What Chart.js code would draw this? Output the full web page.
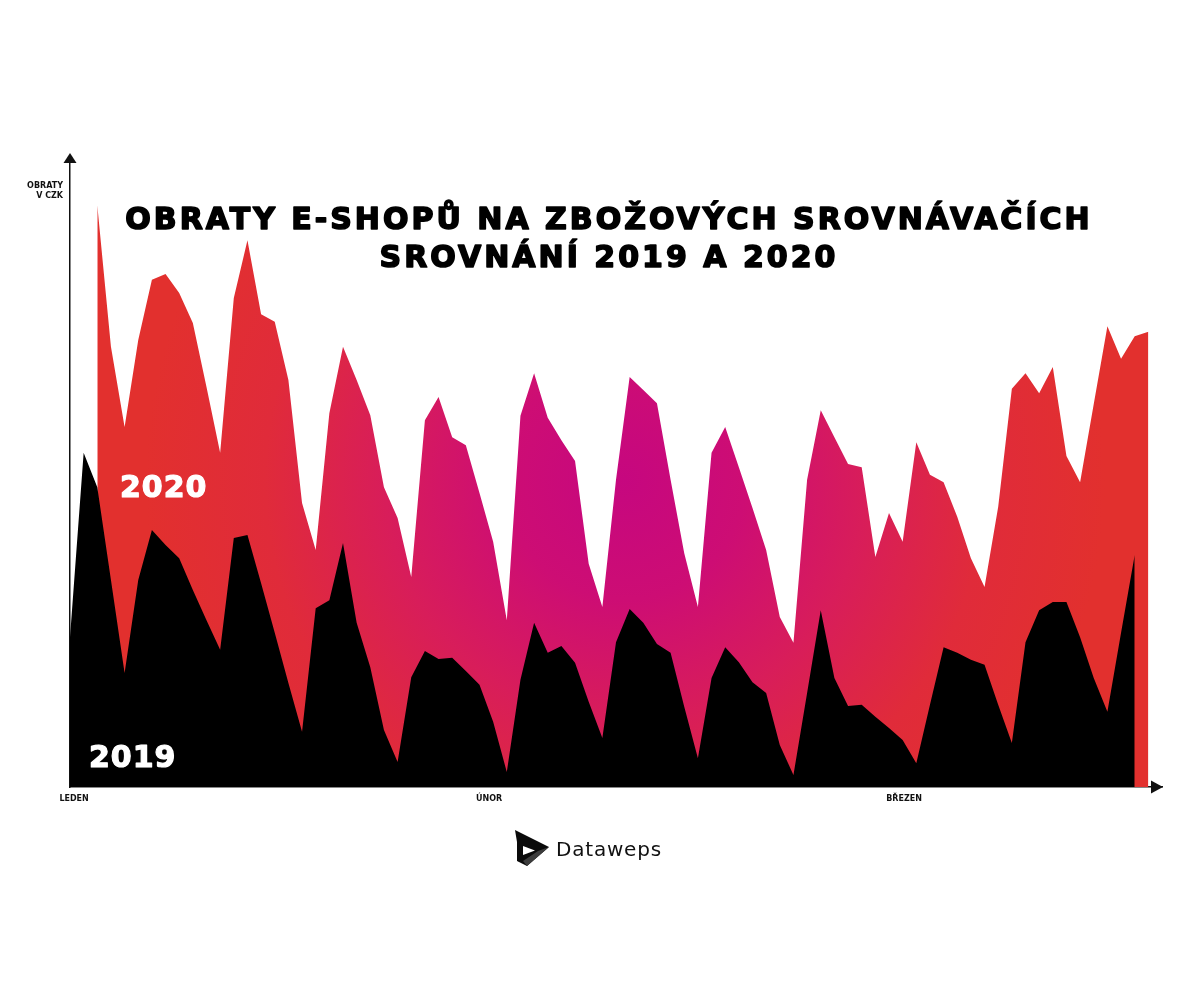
<!DOCTYPE html>
<html>
<head>
<meta charset="utf-8">
<style>
  html, body { margin: 0; padding: 0; background: #fff; }
  #wrap { position: relative; width: 1200px; height: 1006px; }
</style>
</head>
<body>
<div id="wrap"><canvas id="chart"></canvas></div>

<script src="https://cdn.jsdelivr.net/npm/chart.js"></script>

<script>
  // daily turnover, day index 0 = 1 January
  const start2019 = 0
  const values2019 = [
    23.9, 53.3, 47.8, 33.0, 18.2, 33.0, 41.0, 38.6, 36.5, 31.4,
    26.6, 21.9, 39.7, 40.2, 32.5, 24.6, 16.6, 8.8, 28.5, 29.8,
    38.9, 26.2, 19.1, 9.1, 4.0, 17.5, 21.7, 20.4, 20.6, 18.5,
    16.3, 10.4, 2.4, 17.1, 26.2, 21.4, 22.5, 19.8, 13.6, 7.8,
    23.1, 28.4, 26.2, 22.8, 21.4, 12.8, 4.6, 17.4, 22.3, 19.9,
    16.7, 15.0, 6.7, 1.9, 15.0, 28.2, 17.4, 12.9, 13.1, 11.2,
    9.4, 7.5, 3.8, 13.1, 22.3, 21.4, 20.3, 19.5, 13.1, 7.0,
    23.1, 28.2, 29.5, 29.5, 23.9, 17.4, 12.0, 24.6, 37.0
  ]
  const start2020 = 2
  const values2020 = [
    92.8, 70.2, 57.4, 71.3, 80.9, 81.8, 78.8, 74.0, 63.8, 53.3,
    78.0, 87.2, 75.4, 74.2, 64.9, 45.3, 37.8, 59.6, 70.2, 64.9,
    59.3, 47.8, 42.9, 33.5, 58.5, 62.2, 55.8, 54.5, 46.9, 39.1,
    26.6, 59.2, 66.0, 58.9, 55.3, 52.0, 35.6, 28.7, 49.0, 65.4,
    63.3, 61.2, 49.0, 37.3, 28.7, 53.3, 57.4, 51.0, 44.5, 37.8,
    27.1, 23.0, 49.0, 60.1, 55.8, 51.5, 51.0, 36.7, 43.7, 39.1,
    55.0, 49.8, 48.6, 43.1, 36.5, 31.9, 44.7, 63.5, 66.0, 62.8,
    67.0, 52.8, 48.6, 61.1, 73.5, 68.3, 71.9, 72.6
  ]
  const monthTicks = [0.3, 30.7, 61.1]
  const monthLabels = ['LEDEN', 'ÚNOR', 'BŘEZEN']
  const titleLines = ['OBRATY E-SHOPŮ NA ZBOŽOVÝCH SROVNÁVAČÍCH', 'SROVNÁNÍ 2019 A 2020']
  const yAxisLabel = ['OBRATY', 'V CZK']
  const seriesNames = ['2019', '2020']
  const brand = 'Dataweps'

  const toPoints = (values, start) => values.map((v, i) => ({ x: start + i, y: v }))

  let grad = null
  function pinkFill(context) {
    const { ctx, chartArea } = context.chart
    if (!chartArea) return '#e2302e'
    if (!grad) {
      grad = ctx.createRadialGradient(625, 480, 0, 625, 480, 480)
      grad.addColorStop(0, '#c6077f')
      grad.addColorStop(0.25, '#cd0d74')
      grad.addColorStop(0.5, '#d81d5a')
      grad.addColorStop(0.75, '#e02b3a')
      grad.addColorStop(1, '#e2302e')
    }
    return grad
  }

  function heavyText(ctx, text, x, y, w) {
    ctx.lineWidth = w
    ctx.lineJoin = 'round'
    ctx.strokeStyle = ctx.fillStyle
    ctx.strokeText(text, x, y)
    ctx.fillText(text, x, y)
  }

  const decor = {
    id: 'decor',
    afterDraw(chart) {
      const { ctx, chartArea: a } = chart
      ctx.save()
      ctx.fillStyle = '#111'
      // arrow heads
      ctx.beginPath()
      ctx.moveTo(a.left, a.top - 7)
      ctx.lineTo(a.left - 6.5, a.top + 3)
      ctx.lineTo(a.left + 6.5, a.top + 3)
      ctx.fill()
      ctx.beginPath()
      ctx.moveTo(a.right + 1, a.bottom)
      ctx.lineTo(a.right - 11, a.bottom - 6.5)
      ctx.lineTo(a.right - 11, a.bottom + 6.5)
      ctx.fill()

      // y axis caption
      ctx.font = 'bold 8px "DejaVu Sans"'
      ctx.textAlign = 'right'
      ctx.textBaseline = 'alphabetic'
      ctx.fillText(yAxisLabel[0], a.left - 7, 187.5)
      ctx.fillText(yAxisLabel[1], a.left - 7, 197.5)

      // title
      ctx.fillStyle = '#000'
      ctx.font = 'bold 30px "DejaVu Sans"'
      ctx.letterSpacing = '3px'
      ctx.textAlign = 'center'
      heavyText(ctx, titleLines[0], 609, 229, 1.6)
      heavyText(ctx, titleLines[1], 609, 267, 1.6)

      // series names
      ctx.fillStyle = '#fff'
      ctx.letterSpacing = '1px'
      ctx.textAlign = 'left'
      heavyText(ctx, seriesNames[1], 120, 497, 1.2)
      heavyText(ctx, seriesNames[0], 89, 767, 1.2)

      // logo
      ctx.letterSpacing = '0.8px'
      ctx.fillStyle = '#111'
      ctx.font = '20px "DejaVu Sans"'
      ctx.fillText(brand, 556, 856)
      ctx.fillStyle = '#0a0a0a'
      ctx.beginPath()
      ctx.moveTo(515, 830); ctx.lineTo(549, 847); ctx.lineTo(527, 866)
      ctx.lineTo(517, 861); ctx.lineTo(517, 842)
      ctx.fill()
      ctx.fillStyle = '#3c3c3c'
      ctx.beginPath()
      ctx.moveTo(549, 847); ctx.lineTo(527, 866); ctx.lineTo(523, 861); ctx.lineTo(538, 851)
      ctx.fill()
      ctx.fillStyle = '#fff'
      ctx.beginPath()
      ctx.moveTo(523, 846); ctx.lineTo(535, 850.5); ctx.lineTo(523, 855)
      ctx.fill()
      ctx.restore()
    }
  }

  new Chart(document.getElementById('chart'), {
    type: 'line',
    data: {
      datasets: [
        {
          label: seriesNames[0],
          data: toPoints(values2019, start2019),
          fill: 'origin',
          backgroundColor: '#000',
          borderWidth: 0,
          borderColor: 'rgba(0,0,0,0)',
          pointRadius: 0,
          tension: 0,
          order: 1
        },
        {
          label: seriesNames[1],
          data: toPoints(values2020, start2020),
          fill: 'origin',
          backgroundColor: pinkFill,
          borderWidth: 0,
          borderColor: 'rgba(0,0,0,0)',
          pointRadius: 0,
          tension: 0,
          order: 2
        }
      ]
    },
    options: {
      responsive: true,
      maintainAspectRatio: false,
      animation: false,
      events: [],
      layout: { padding: { left: 70, right: 38, top: 160, bottom: 189 } },
      plugins: { legend: { display: false }, tooltip: { enabled: false } },
      scales: {
        x: {
          type: 'linear',
          min: 0,
          max: 80,
          grid: { display: false, drawTicks: false },
          border: { display: true, color: '#111', width: 1.5 },
          afterFit: scale => { scale.height = 30 },
          afterBuildTicks: scale => { scale.ticks = monthTicks.map(v => ({ value: v })) },
          ticks: {
            autoSkip: false,
            maxRotation: 0,
            padding: 7,
            color: '#111',
            font: { family: 'DejaVu Sans', size: 8, weight: 'bold' },
            callback: value => monthLabels[monthTicks.indexOf(value)]
          }
        },
        y: {
          min: 0,
          max: 100,
          grid: { display: false, drawTicks: false },
          border: { display: true, color: '#111', width: 1.5 },
          afterFit: scale => { scale.width = 0 },
          ticks: { display: false }
        }
      }
    },
    plugins: [decor]
  })
</script>
</body>
</html>
